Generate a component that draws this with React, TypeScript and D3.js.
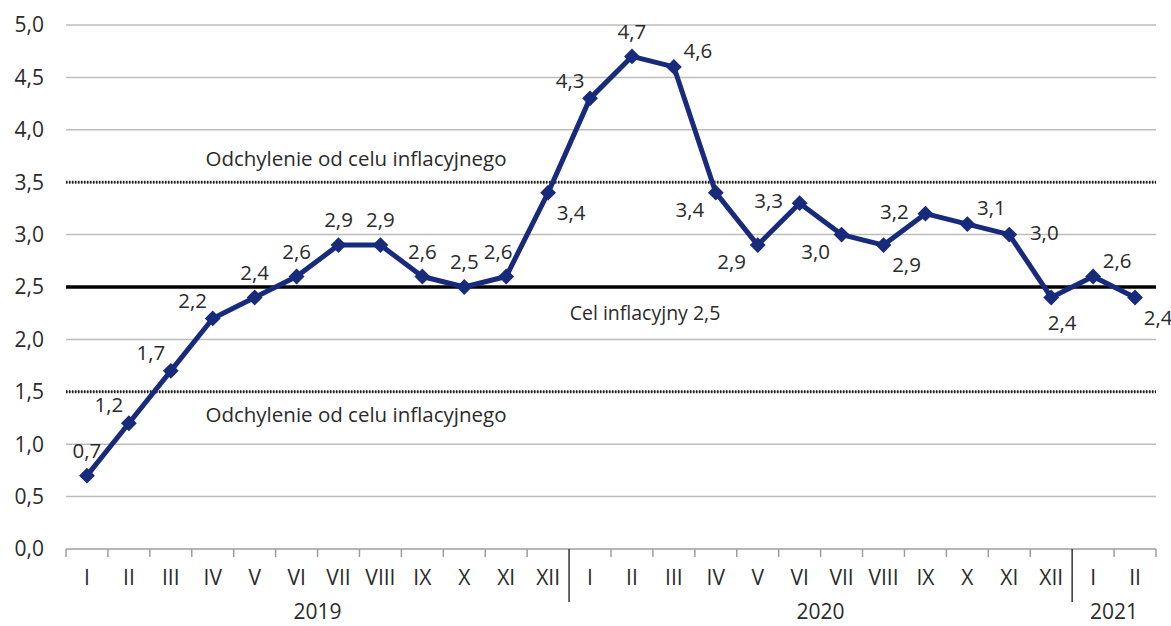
import * as d3 from "d3";
import { useMemo } from "react";

// miesiące (26 punktów: 2019 I – 2021 II)
const months = [
  "I", "II", "III", "IV", "V", "VI", "VII", "VIII", "IX", "X", "XI", "XII",
  "I", "II", "III", "IV", "V", "VI", "VII", "VIII", "IX", "X", "XI", "XII",
  "I", "II",
];
const years = [
  { label: "2019", from: 0, to: 12 },
  { label: "2020", from: 12, to: 24 },
  { label: "2021", from: 24, to: 26 },
];
const cpi = [
  0.7, 1.2, 1.7, 2.2, 2.4, 2.6, 2.9, 2.9, 2.6, 2.5, 2.6, 3.4,
  4.3, 4.7, 4.6, 3.4, 2.9, 3.3, 3.0, 2.9, 3.2, 3.1, 3.0, 2.4,
  2.6, 2.4,
];
// gdzie stoi etykieta względem punktu
const labelPos = [
  "t", "tl", "tl", "tl", "t", "t", "t", "t", "t", "t", "tl2", "br",
  "tl", "t", "tr", "bl", "bl", "l", "bl", "br", "l", "tr", "r", "b",
  "tr", "br",
];
const yTicks = [0, 0.5, 1, 1.5, 2, 2.5, 3, 3.5, 4, 4.5, 5];
const target = 2.5;
const band = [1.5, 3.5];

const W = 1171;
const H = 626;
const FONT = "'Open Sans', sans-serif";
const NAVY = "#172a7c";
const INK = "#2b2b2b";

const offsets: Record<string, [number, number]> = {
  t: [0, -25],
  tl: [-20, -18],
  tl2: [-8, -25],
  tr: [24, -16],
  l: [-31, -2],
  r: [35, -2],
  b: [11, 25],
  bl: [-26, 17],
  br: [23, 20],
};

export default function App() {
  const x = useMemo(
    () => d3.scaleBand<number>().domain(d3.range(months.length)).range([66, 1156]),
    []
  );
  const y = useMemo(() => d3.scaleLinear().domain([0, 5]).range([549, 25]), []);
  const cx = (i: number) => (x(i) as number) + x.bandwidth() / 2;
  const fmt = (v: number) => v.toFixed(1).replace(".", ",");

  const line = d3
    .line<number>()
    .x((_, i) => cx(i))
    .y((d) => y(d));
  const diamond = d3.symbol(d3.symbolDiamond2, 160)();
  const [x0, x1] = x.range();

  return (
    <svg
      width={W}
      height={H}
      style={{ position: "absolute", left: 0, top: 0, background: "#fff" }}
      fontFamily={FONT}
    >
      {/* siatka */}
      {yTicks.map((t) => (
        <g key={t}>
          {t > 0 && (
            <line x1={x0} x2={x1} y1={y(t)} y2={y(t)} stroke="#bdbdbd" strokeWidth={1.5} />
          )}
          <text x={44} y={y(t)} dy="0.35em" textAnchor="end" fontSize={21} fill={INK}>
            {fmt(t)}
          </text>
        </g>
      ))}
      {band.map((b) => (
        <line
          key={b}
          x1={x0}
          x2={x1}
          y1={y(b)}
          y2={y(b)}
          stroke="#222"
          strokeWidth={3}
          strokeDasharray="1.5 1.5"
        />
      ))}
      <line x1={x0} x2={x1} y1={y(target)} y2={y(target)} stroke="#000" strokeWidth={3.5} />
      <text x={356} y={y(band[1]) - 23} dy="0.35em" textAnchor="middle" fontSize={20.5} fill={INK}>
        Odchylenie od celu inflacyjnego
      </text>
      <text x={356} y={y(band[0]) + 23} dy="0.35em" textAnchor="middle" fontSize={20.5} fill={INK}>
        Odchylenie od celu inflacyjnego
      </text>
      <text x={645} y={y(target) + 26} dy="0.35em" textAnchor="middle" fontSize={19.5} fill={INK}>
        Cel inflacyjny 2,5
      </text>

      {/* oś X */}
      <line x1={x0} x2={x1} y1={y(0)} y2={y(0)} stroke="#9e9e9e" strokeWidth={1.5} />
      {d3.range(months.length + 1).map((i) => {
        const xx = i < months.length ? (x(i) as number) : x1;
        const sep = i === 12 || i === 24;
        return (
          <line
            key={i}
            x1={xx}
            x2={xx}
            y1={y(0)}
            y2={y(0) + (sep ? 53 : 8)}
            stroke={sep ? "#333" : "#9e9e9e"}
            strokeWidth={1.5}
          />
        );
      })}
      {months.map((m, i) => (
        <text key={i} x={cx(i)} y={578} dy="0.35em" textAnchor="middle" fontSize={21} fill={INK}>
          {m}
        </text>
      ))}
      {years.map((yr) => (
        <text
          key={yr.label}
          x={((x(yr.from) as number) + (yr.to < months.length ? (x(yr.to) as number) : x1)) / 2}
          y={612}
          dy="0.35em"
          textAnchor="middle"
          fontSize={21}
          fill={INK}
        >
          {yr.label}
        </text>
      ))}

      {/* seria */}
      <path d={line(cpi) ?? ""} fill="none" stroke={NAVY} strokeWidth={5} strokeLinejoin="round" />
      {cpi.map((v, i) => (
        <path key={i} d={diamond ?? ""} transform={`translate(${cx(i)},${y(v)})`} fill={NAVY} />
      ))}
      {cpi.map((v, i) => {
        const [dx, dy] = offsets[labelPos[i]];
        return (
          <text
            key={i}
            x={cx(i) + dx}
            y={y(v) + dy}
            dy="0.35em"
            textAnchor="middle"
            fontSize={20.5}
            fill={INK}
          >
            {fmt(v)}
          </text>
        );
      })}
    </svg>
  );
}
